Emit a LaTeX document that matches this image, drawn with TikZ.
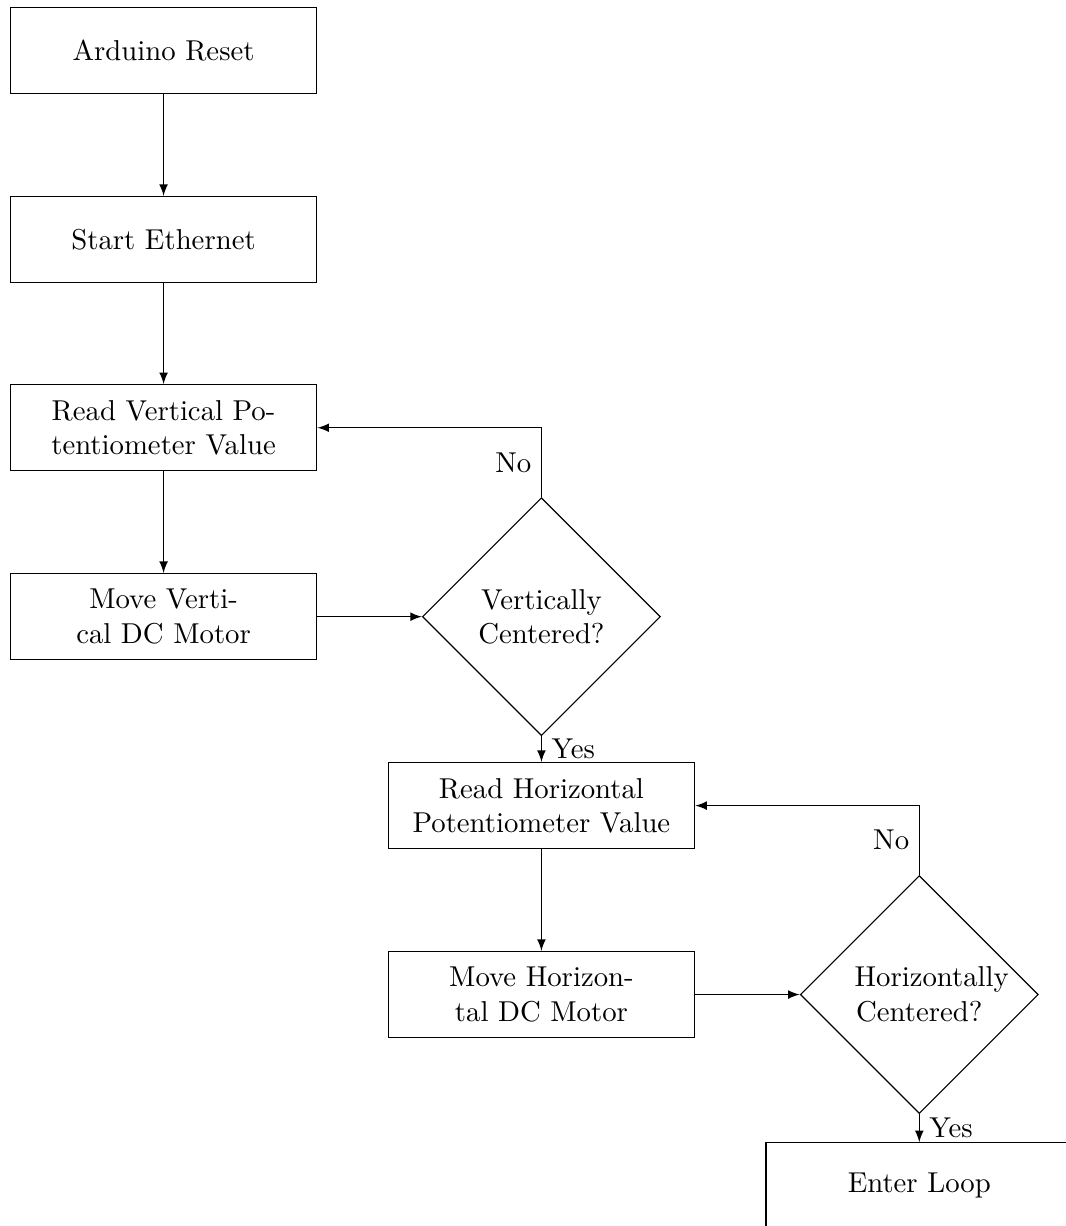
\documentclass[tikz,border=0pt]{standalone}
\usetikzlibrary{shapes.geometric}
\tikzset{
  block/.style={rectangle, draw, text width=10em, align=center, minimum height=3em},
  decision/.style={diamond, draw, text width=4.5em, align=flush center, inner sep=0pt, minimum size=2.91cm},
}
\begin{document}
\begin{tikzpicture}[>=latex]
\useasboundingbox (-2.0,0.62) rectangle (11.03,-14.37);
% Inicio
\node[block] (reset) at (0,0) {Arduino Reset};
\node[block] (ethernet) at (0,-2.31) {Start Ethernet};

% Eje vertical
\node[block] (readv) at (0,-4.61) {Read Vertical Potentiometer Value};
\node[block] (movev) at (0,-6.92) {Move Vertical DC Motor};
\node[decision] (decv) at (4.62,-6.92) {Vertically Centered?};

% Eje horizontal
\node[block] (readh) at (4.62,-9.23) {Read Horizontal Potentiometer Value};
\node[block] (moveh) at (4.62,-11.54) {Move Horizontal DC Motor};
\node[decision] (dech) at (9.24,-11.54) {Horizontally Centered?};

\node[block] (loop) at (9.24,-13.88) {Enter Loop};

% Flechas
\draw[->] (reset) -- (ethernet);
\draw[->] (ethernet) -- (readv);
\draw[->] (readv) -- (movev);
\draw[->] (movev) -- (decv);
\draw[->] (decv) -- node[right] {Yes} (readh);
\draw[->] (decv.north) |- node[near start, left] {No} (readv.east);
\draw[->] (readh) -- (moveh);
\draw[->] (moveh) -- (dech);
\draw[->] (dech) -- node[right] {Yes} (loop);
\draw[->] (dech.north) |- node[near start, left] {No} (readh.east);
\end{tikzpicture}
\end{document}
